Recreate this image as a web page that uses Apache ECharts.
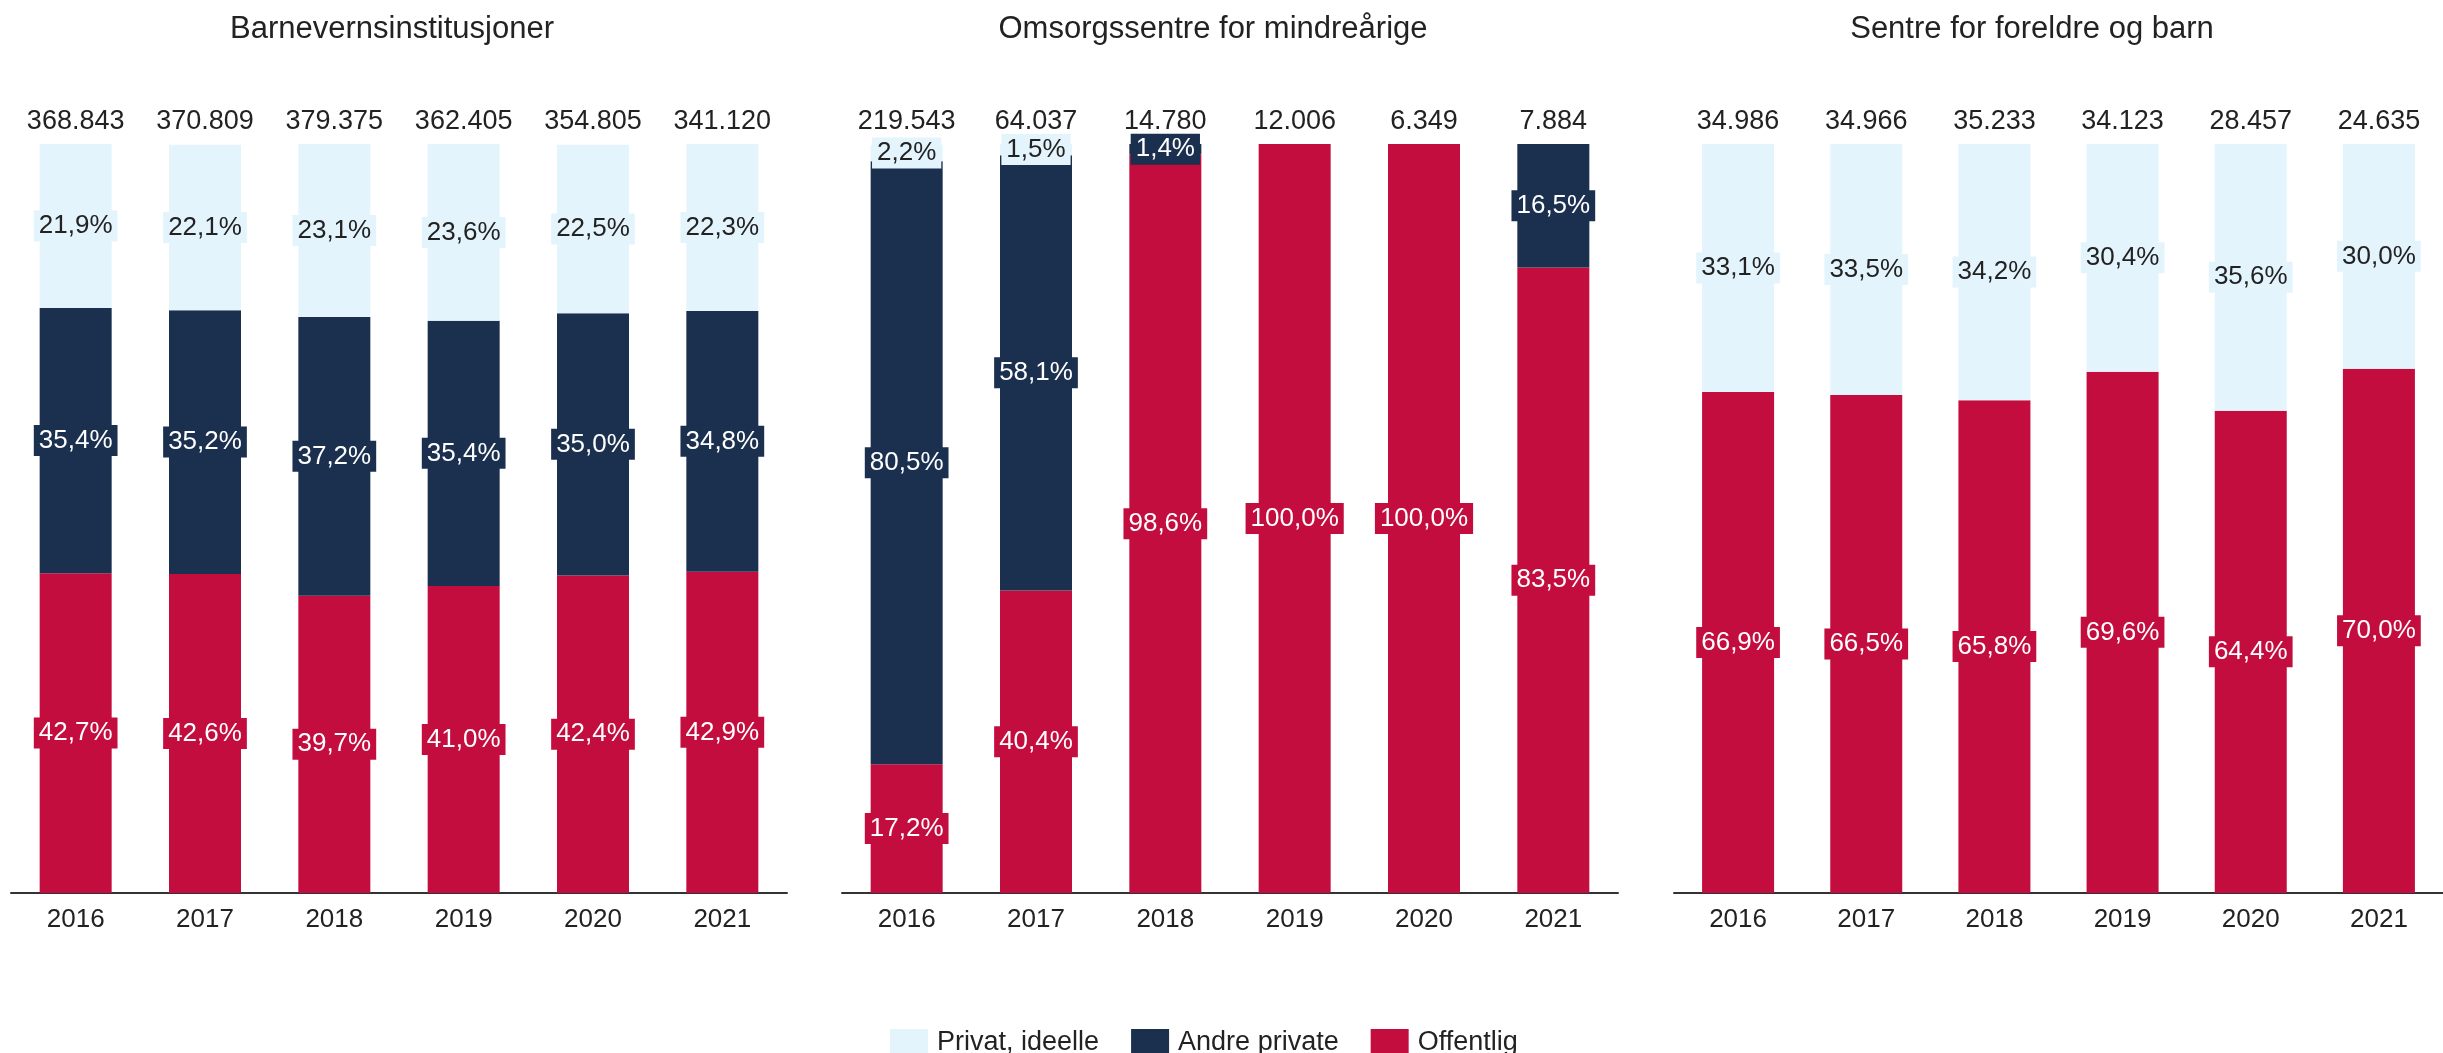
<!DOCTYPE html>
<html>
<head>
<meta charset="utf-8">
<script src="https://cdn.jsdelivr.net/npm/echarts@6/dist/echarts.min.js"></script>
<style>
  html, body { margin: 0; padding: 0; background: #fff; }
  #chart { width: 2443px; height: 1053px; }
</style>
</head>
<body>
<div id="chart"></div>
<script>
const years = ['2016', '2017', '2018', '2019', '2020', '2021']
const panelTitles = ['Barnevernsinstitusjoner', 'Omsorgssentre for mindreårige', 'Sentre for foreldre og barn']
const seriesNames = ['Offentlig', 'Andre private', 'Privat, ideelle']
const legendOrder = ['Privat, ideelle', 'Andre private', 'Offentlig']

// Barnevernsinstitusjoner
const barnevernTotals = [368843, 370809, 379375, 362405, 354805, 341120]
const barnevernOffentlig = [42.7, 42.6, 39.7, 41.0, 42.4, 42.9]
const barnevernAndre = [35.4, 35.2, 37.2, 35.4, 35.0, 34.8]
const barnevernIdeelle = [21.9, 22.1, 23.1, 23.6, 22.5, 22.3]

// Omsorgssentre for mindreårige
const omsorgTotals = [219543, 64037, 14780, 12006, 6349, 7884]
const omsorgOffentlig = [17.2, 40.4, 98.6, 100.0, 100.0, 83.5]
const omsorgAndre = [80.5, 58.1, 1.4, 0, 0, 16.5]
const omsorgIdeelle = [2.2, 1.5, 0, 0, 0, 0]

// Sentre for foreldre og barn
const sentreTotals = [34986, 34966, 35233, 34123, 28457, 24635]
const sentreOffentlig = [66.9, 66.5, 65.8, 69.6, 64.4, 70.0]
const sentreAndre = [0, 0, 0, 0, 0, 0]
const sentreIdeelle = [33.1, 33.5, 34.2, 30.4, 35.6, 30.0]

const panels = [
  { totals: barnevernTotals, values: [barnevernOffentlig, barnevernAndre, barnevernIdeelle] },
  { totals: omsorgTotals, values: [omsorgOffentlig, omsorgAndre, omsorgIdeelle] },
  { totals: sentreTotals, values: [sentreOffentlig, sentreAndre, sentreIdeelle] }
]

const colors = ['#c40d3f', '#1b2f4f', '#e4f4fc']
const labelColors = ['#ffffff', '#ffffff', '#222222']
const gridLefts = [11, 842, 1674]
const titleCenters = [387, 1208, 2027]
const font = '"Liberation Sans", Arial, Helvetica, sans-serif'

const fmtPct = v => v.toFixed(1).replace('.', ',') + '%'
const fmtTotal = v => String(v).replace(/\B(?=(\d{3})+(?!\d))/g, '.')

const chart = echarts.init(document.getElementById('chart'))

const grid = []
const xAxis = []
const yAxis = []
const series = []
const title = []

panels.forEach((panel, i) => {
  grid.push({ left: gridLefts[i], top: 144, width: 776, height: 749 })
  title.push({
    text: panelTitles[i],
    left: titleCenters[i],
    top: 9,
    textAlign: 'center',
    textStyle: { fontFamily: font, fontSize: 31, fontWeight: 'normal', color: '#222' }
  })
  xAxis.push({
    type: 'category',
    gridIndex: i,
    data: years,
    axisLine: { lineStyle: { color: '#333', width: 2 } },
    axisTick: { show: false },
    axisLabel: { fontFamily: font, fontSize: 26, color: '#222', margin: 14 }
  })
  xAxis.push({
    type: 'category',
    gridIndex: i,
    position: 'top',
    data: panel.totals.map(fmtTotal),
    axisLine: { show: false },
    axisTick: { show: false },
    axisLabel: { fontFamily: font, fontSize: 27, color: '#222', margin: 9 }
  })
  yAxis.push({ type: 'value', gridIndex: i, min: 0, max: 100, show: false })

  panel.values.forEach((vals, k) => {
    series.push({
      name: seriesNames[k],
      type: 'bar',
      stack: 'p' + i,
      xAxisIndex: 2 * i,
      yAxisIndex: i,
      barWidth: 72,
      data: vals.map(v => ({ value: v, label: { show: v > 0 } })),
      itemStyle: { color: colors[k] },
      label: {
        position: 'inside',
        formatter: p => fmtPct(p.value),
        fontFamily: font,
        fontSize: 26,
        color: labelColors[k],
        backgroundColor: colors[k],
        padding: [3, 5, 2, 5]
      }
    })
  })
})

chart.setOption({
  animation: false,
  title,
  legend: {
    data: legendOrder,
    left: 885,
    top: 1024,
    itemWidth: 38,
    itemHeight: 28,
    itemGap: 32,
    icon: 'rect',
    textStyle: { fontFamily: font, fontSize: 27, color: '#222', padding: [0, 0, 0, 4] }
  },
  grid,
  xAxis,
  yAxis,
  series
})
</script>
</body>
</html>
